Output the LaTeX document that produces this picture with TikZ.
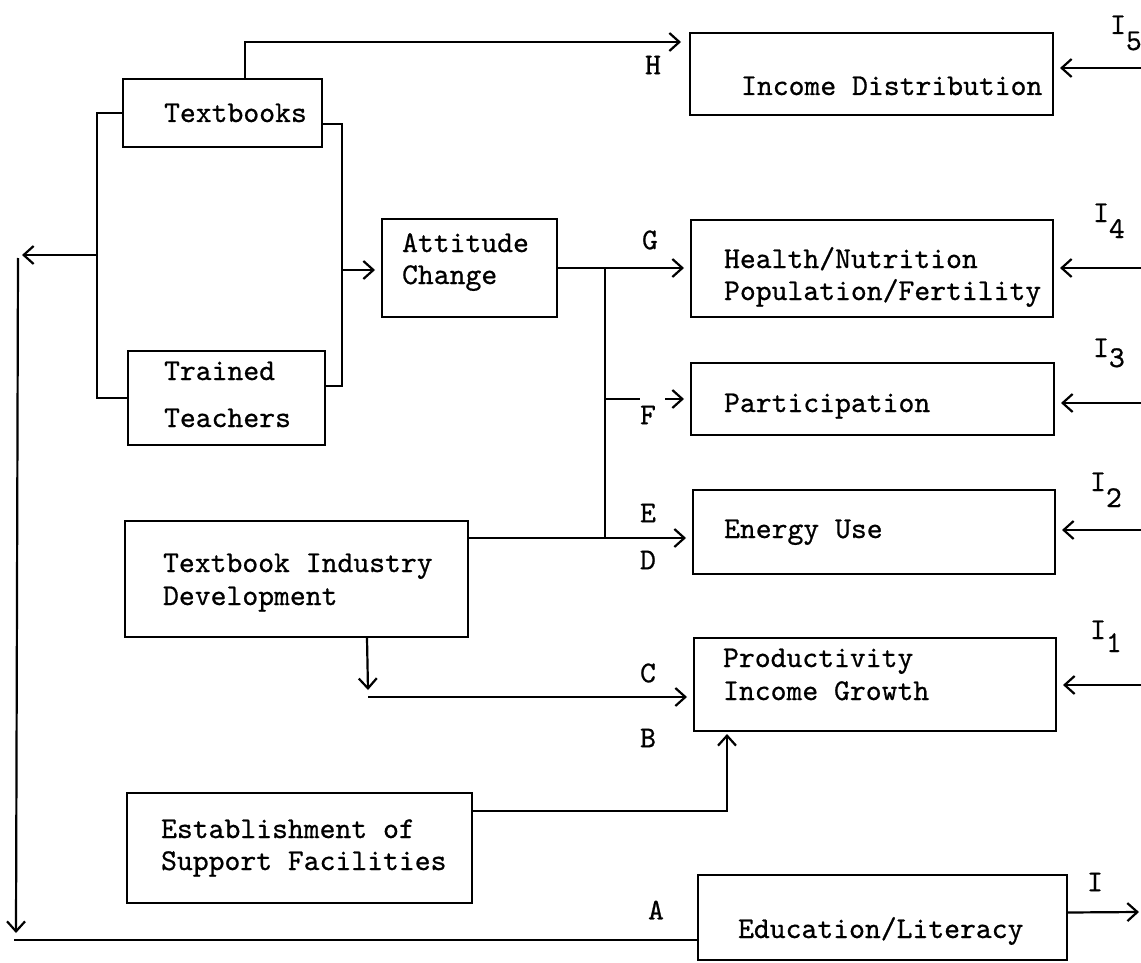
\documentclass[tikz,border=0pt]{standalone}
\usepackage{fontspec}
\newfontfamily\tw{lmmono10-regular.otf}[FakeBold=0.7]
\usetikzlibrary{arrows.meta,calc,fit}
\begin{document}
\begin{tikzpicture}[x=0.5pt,y=-0.5pt,line width=1.1pt,
  bx/.style={draw,inner sep=0pt,line width=1pt},
  txt/.style={inner sep=0pt,anchor=base west,font=\fontsize{15.1}{18}\selectfont\tw},
  lbl/.style={inner sep=0pt,font=\fontsize{15.1}{18}\selectfont\tw},
  arr/.style={-{Straight Barb[length=5pt,width=9pt]}},
  into/.style={arr,shorten >=3pt}]
\useasboundingbox (0,0) rectangle (1141,963);
% boxes
\node[bx,fit={(123,79) (322,147)}] (tb) {};
\node[bx,fit={(128,351) (325,445)}] (tt) {};
\node[bx,fit={(382,219) (557,317)}] (ac) {};
\node[bx,fit={(125,521) (468,637)}] (tid) {};
\node[bx,fit={(127,793) (472,903)}] (esf) {};
\node[bx,fit={(690,33) (1053,115)}] (inc) {};
\node[bx,fit={(691,220) (1053,317)}] (hn) {};
\node[bx,fit={(691,363) (1054,435)}] (par) {};
\node[bx,fit={(693,490) (1055,574)}] (en) {};
\node[bx,fit={(694,638) (1056,731)}] (pr) {};
\node[bx,fit={(698,875) (1067,960)}] (ed) {};
% box texts
\node[txt] (t1) at (163,122) {Textbooks};
\node[txt] (t2) at (163,380) {Trained};
\node[txt] (t3) at (163,427) {Teachers};
\node[txt] (t4) at (401,252) {Attitude};
\node[txt] (t5) at (401,284) {Change};
\node[txt] (t6) at (162,572) {Textbook Industry};
\node[txt] (t7) at (162,605) {Development};
\node[txt] (t8) at (160,838) {Establishment of};
\node[txt] (t9) at (160,870) {Support Facilities};
\node[txt] (t10) at (740,95) {Income Distribution};
\node[txt] (t11) at (723,268) {Health/Nutrition};
\node[txt] (t12) at (723,300) {Population/Fertility};
\node[txt] (t13) at (723,412) {Participation};
\node[txt] (t14) at (723,538) {Energy Use};
\node[txt] (t15) at (722,667) {Productivity};
\node[txt] (t16) at (722,700) {Income Growth};
\node[txt] (t17) at (737,938) {Education/Literacy};
% connector labels
\node[lbl] (lH) at (653,65) {H};
\node[lbl] (lG) at (650,240) {G};
\node[lbl] (lF) at (648,415) {F};
\node[lbl] (lE) at (648,513) {E};
\node[lbl] (lD) at (648,560) {D};
\node[lbl] (lC) at (648,673) {C};
\node[lbl] (lB) at (648,738) {B};
\node[lbl] (lA) at (656,910) {A};
\node[txt] (i5) at (1109,34) {I\raisebox{-8pt}{5}};
\node[txt] (i4) at (1092,222) {I\raisebox{-8pt}{4}};
\node[txt] (i3) at (1092,357) {I\raisebox{-5pt}{3}};
\node[txt] (i2) at (1089,491) {I\raisebox{-8pt}{2}};
\node[txt] (i1) at (1089,639) {I\raisebox{-6.5pt}{1}};
\node[lbl] (i0) at (1095,882) {I};
% helper coordinates
\coordinate (bl) at (97,255);
\coordinate (la) at (22,255);
\coordinate (lv1) at (18,258);
\coordinate (lv2) at (16,933);
\coordinate (bl2) at (14,940);
\coordinate (rb) at (342,270);
\coordinate (vx) at (605,0);
\coordinate (cx) at ($(tid.south west)+(243,0)$);
\coordinate (cd) at (368,690);
\coordinate (cl) at (368,697);
\coordinate (ex) at ($(pr.south west)+(34,0)$);
\coordinate (dl) at ($(tid.north east)+(0,18)$);
\coordinate (r5) at (1141,68);
\coordinate (r4) at (1141,268);
\coordinate (r3) at (1141,403);
\coordinate (r2) at (1141,530);
\coordinate (r1) at (1141,685);
\coordinate (ro) at (1139,912);
% H
\draw[arr] ($(tb.north west)+(123,0)$) |- ($(inc.north west)+(-8,10)$);
% left bus
\draw (tb.west) -| (bl) |- (tt.west);
\draw[arr] (bl) -- (la);
\draw[arr] (lv1) -- (lv2);
\draw (bl2) -- (bl2 -| ed.west);
% right bus
\draw ($(tb.south east)+(0,-24)$) -| (rb) |- ($(tt.north east)+(0,36)$);
\draw[into] (rb) -- (rb -| ac.west);
% G
\draw[into] (ac.east) -- (ac.east -| hn.west);
% vertical connector
\draw (vx |- ac.east) -- (vx |- dl);
% F
\draw (vx |- par.west) -- ++(35,0);
\draw[into] ($(par.west)+(-25,0)$) -- (par.west);
% E / D
\draw[into] (dl) -- (dl -| en.west);
% C
\draw[arr] (cx) -- (cd);
\draw[into] (cl) -- (cl -| pr.west);
% B
\draw[arr,shorten >=1pt] ($(esf.north east)+(0,19)$) -| (ex);
% inputs
\draw[into] (r5) -- (r5 -| inc.east);
\draw[into] (r4) -- (r4 -| hn.east);
\draw[into] (r3) -- (r3 -| par.east);
\draw[into] (r2) -- (r2 -| en.east);
\draw[into] (r1) -- (r1 -| pr.east);
% output
\draw[arr] ($(ed.east)+(0,-5)$) -- (ro);
\end{tikzpicture}
\end{document}
